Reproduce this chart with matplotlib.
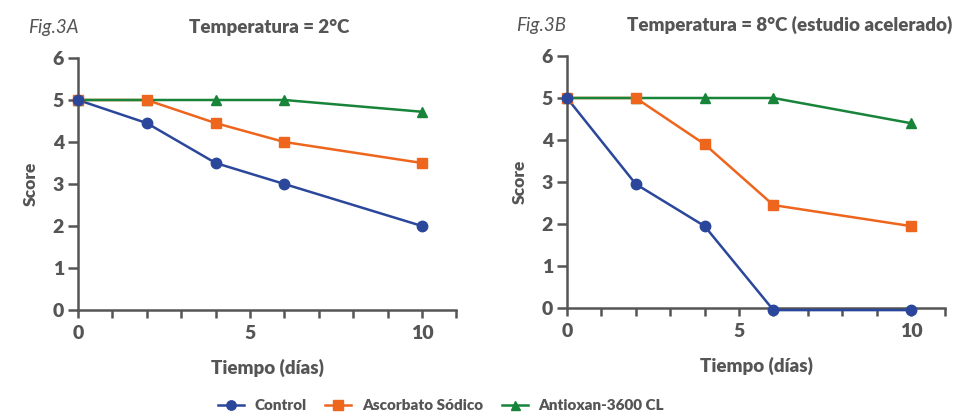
import matplotlib
matplotlib.use("Agg")
import matplotlib.pyplot as plt
from matplotlib.ticker import MultipleLocator
from matplotlib.lines import Line2D

plt.rcParams['font.family'] = ['Lato', 'DejaVu Sans']

days = [0, 2, 4, 6, 10]
series_names = ["Control", "Ascorbato Sódico", "Antioxan-3600 CL"]
a_control = [5.0, 4.45, 3.5, 3.0, 2.0]
a_ascorbato = [5.0, 5.0, 4.45, 4.0, 3.5]
a_antioxan = [5.0, 5.0, 5.0, 5.0, 4.72]
b_control = [5.0, 2.95, 1.95, -0.05, -0.05]
b_ascorbato = [5.0, 5.0, 3.9, 2.45, 1.95]
b_antioxan = [5.0, 5.0, 5.0, 5.0, 4.4]
titles = ["Temperatura = 2°C", "Temperatura = 8°C (estudio acelerado)"]
fig_labels = ["Fig.3A", "Fig.3B"]

colors = ["#2B479B", "#EE651E", "#17843A"]
markers = ["o", "s", "^"]
msizes = [7.5, 7.5, 7.2]
gray = "#555555"
W_BOLD = 'heavy'

W, H = 961, 416
fig = plt.figure(figsize=(W / 100, H / 100), dpi=100)

def px_axes(x0, x1, y_bottom, y_top):
    return [x0 / W, 1 - y_bottom / H, (x1 - x0) / W, (y_bottom - y_top) / H]

ax1 = fig.add_axes(px_axes(78, 456.4, 310, 58))
ax2 = fig.add_axes(px_axes(567, 945.4, 308, 56))

data = [(a_control, a_ascorbato, a_antioxan), (b_control, b_ascorbato, b_antioxan)]
line_z = {0: 3, 1: 3.1, 2: 3.2}
marker_z = {2: 4, 1: 4.1, 0: 4.2}
for ax, ds in zip([ax1, ax2], data):
    for i in range(3):
        ax.plot(days, ds[i], color=colors[i], linewidth=1.8, clip_on=False, zorder=line_z[i])
        ax.plot(days, ds[i], color=colors[i], marker=markers[i], markersize=msizes[i],
                linestyle='none', clip_on=False, zorder=marker_z[i])
    ax.set_xlim(0, 11)
    ax.set_ylim(0, 6)
    ax.xaxis.set_major_locator(MultipleLocator(5))
    ax.xaxis.set_minor_locator(MultipleLocator(1))
    ax.yaxis.set_major_locator(MultipleLocator(1))
    for s in ["top", "right"]:
        ax.spines[s].set_visible(False)
    for s in ["left", "bottom"]:
        ax.spines[s].set_color(gray)
        ax.spines[s].set_linewidth(1.8)
    ax.tick_params(axis='both', which='both', direction='out', color=gray, width=1.8)
    ax.tick_params(axis='y', which='major', length=7, pad=3, labelsize=14, labelcolor=gray)
    ax.tick_params(axis='x', which='major', length=6, pad=5, labelsize=14, labelcolor=gray)
    ax.tick_params(axis='x', which='minor', length=6)
    for lab in ax.get_xticklabels() + ax.get_yticklabels():
        lab.set_fontweight(W_BOLD)
    ax.set_ylabel("Score", fontsize=12.5, fontweight=W_BOLD, color=gray, labelpad=10)
    ax.set_xlabel("Tiempo (días)", fontsize=13.5, fontweight=W_BOLD, color=gray, labelpad=12)

fig.text(269 / W, 1 - 27 / H, titles[0], ha='center', va='center', fontsize=13.5,
         fontweight=W_BOLD, color=gray)
fig.text(790 / W, 1 - 25 / H, titles[1], ha='center', va='center', fontsize=13.5,
         fontweight=W_BOLD, color=gray)
fig.text(28 / W, 1 - 27 / H, fig_labels[0], ha='left', va='center', fontsize=13.5,
         style='italic', color=gray)
fig.text(516 / W, 1 - 25 / H, fig_labels[1], ha='left', va='center', fontsize=13.5,
         style='italic', color=gray)

handles = [Line2D([], [], color=colors[i], marker=markers[i], markersize=msizes[i] * 0.9,
                  linewidth=1.8) for i in range(3)]
leg = fig.legend(handles, series_names, loc='center', bbox_to_anchor=(441 / W, 1 - 406 / H),
                 ncol=3, frameon=False, prop={'weight': W_BOLD, 'size': 11},
                 handlelength=1.7, columnspacing=1.2, handletextpad=0.7)
for t in leg.get_texts():
    t.set_color(gray)

fig.savefig("out.png", dpi=100)
